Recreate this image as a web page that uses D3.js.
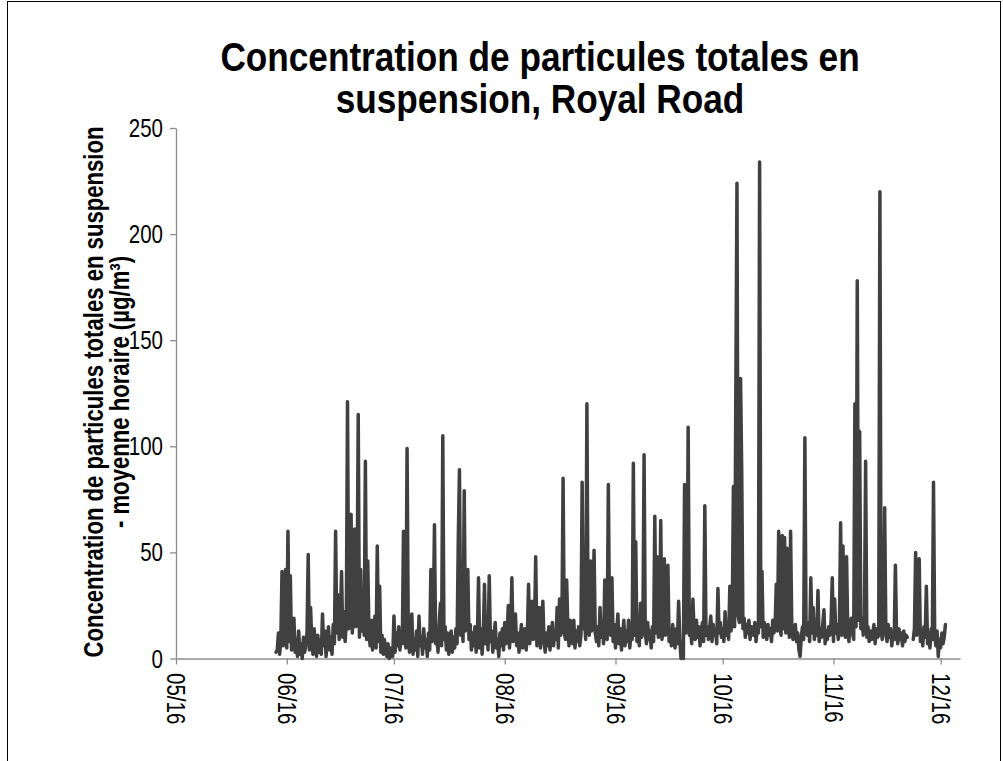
<!DOCTYPE html>
<html>
<head>
<meta charset="utf-8">
<script src="https://cdn.jsdelivr.net/npm/d3@7"></script>
<style>
  body { margin: 0; background: #fff; }
  text { font-family: Arial, "Liberation Sans", sans-serif; }
</style>
</head>
<body>
<svg id="chart" width="1003" height="761"></svg>
<script>
// hourly averages thinned to one value every 8 hours
var startTime = new Date(2016, 4, 29, 0);
var stepHours = 8;
var pm = [
  3, 4, 12, 2, 8, 41, 6, 14, 42, 5, 60, 8, 39, 4, 11,
  19, 3, 9, 1, 13, 2, 7, 0, 10, 3, 6, 12, 49, 4, 24,
  8, 2, 14, 5, 1, 11, 3, 9, 2, 21, 6, 13, 1, 8, 15,
  4, 10, 2, 16, 7, 60, 12, 30, 9, 18, 41, 10, 22, 8, 17,
  121, 14, 26, 68, 12, 20, 61, 15, 28, 115, 10, 42, 13, 24, 11,
  93, 9, 46, 12, 6, 18, 4, 13, 20, 5, 53, 8, 34, 3, 11,
  2, 9, 4, 1, 7, 0, 5, 1, 1, 20, 3, 12, 6, 15, 4,
  10, 7, 60, 13, 5, 99, 14, 3, 11, 21, 2, 9, 4, 13, 1,
  20, 6, 10, 2, 14, 5, 9, 1, 12, 4, 42, 8, 15, 63, 7,
  11, 3, 17, 26, 6, 105, 9, 15, 4, 12, 2, 8, 13, 3, 10,
  5, 14, 7, 56, 89, 11, 18, 8, 79, 13, 20, 42, 9, 16, 4,
  12, 6, 15, 3, 9, 38, 5, 14, 2, 11, 35, 7, 16, 4, 39,
  8, 13, 3, 10, 17, 5, 9, 1, 12, 6, 14, 4, 17, 7, 11,
  25, 5, 13, 38, 8, 15, 21, 6, 12, 3, 10, 16, 5, 9, 14,
  4, 11, 35, 7, 15, 27, 9, 13, 48, 6, 12, 24, 5, 14, 27,
  8, 3, 12, 6, 15, 4, 10, 17, 6, 13, 9, 24, 5, 28, 11,
  16, 85, 12, 9, 37, 14, 6, 18, 10, 7, 18, 5, 13, 8, 15,
  6, 11, 83, 14, 19, 9, 120, 16, 11, 46, 13, 20, 51, 12, 8,
  15, 6, 24, 10, 17, 7, 37, 13, 9, 82, 15, 11, 38, 8, 16,
  5, 12, 21, 7, 14, 4, 11, 18, 6, 13, 8, 18, 5, 12, 9,
  92, 11, 55, 8, 16, 6, 26, 10, 14, 96, 12, 7, 17, 9, 13,
  5, 15, 8, 67, 12, 48, 10, 16, 65, 9, 14, 47, 11, 17, 44,
  8, 13, 6, 16, 10, 5, 14, 7, 27, 9, 0, 1, 0, 82, 12,
  16, 109, 11, 14, 7, 28, 13, 9, 18, 10, 15, 6, 12, 17, 8,
  72, 11, 15, 9, 14, 20, 8, 16, 11, 13, 7, 33, 12, 17, 10,
  14, 8, 22, 11, 16, 9, 34, 13, 18, 81, 15, 122, 224, 20, 17,
  132, 87, 14, 19, 10, 16, 12, 18, 9, 15, 13, 11, 17, 8, 14,
  12, 234, 15, 41, 10, 17, 13, 9, 16, 11, 14, 8, 18, 12, 15,
  35, 13, 60, 16, 11, 58, 14, 57, 12, 52, 17, 10, 60, 15, 9,
  13, 16, 8, 12, 4, 1, 10, 15, 9, 104, 14, 11, 17, 8, 38,
  12, 24, 9, 15, 11, 32, 8, 14, 10, 16, 23, 7, 13, 9, 15,
  11, 17, 38, 8, 28, 12, 16, 9, 14, 64, 11, 53, 15, 10, 48,
  13, 8, 17, 19, 12, 9, 120, 15, 178, 18, 107, 14, 19, 11, 16,
  93, 10, 15, 8, 13, 9, 12, 16, 7, 14, 10, 11, 220, 13, 9,
  15, 71, 12, 8, 16, 10, 14, 6, 12, 9, 44, 11, 7, 14, 9,
  12, 6, 13, 8, 11, 10, null, null, null, null, 9, 14, 50, 11, 16,
  47, 8, 13, 6, 15, 10, 34, 7, 12, 5, 14, 9, 83, 11, 6,
  13, 1, 9, 5, 12, 7, 10, 16
];
var yTicks = [0, 50, 100, 150, 200, 250];
var xTicks = [
  new Date(2016, 4, 1), new Date(2016, 5, 1), new Date(2016, 6, 1), new Date(2016, 7, 1),
  new Date(2016, 8, 1), new Date(2016, 9, 1), new Date(2016, 10, 1), new Date(2016, 11, 1)
];
var titleLines = ["Concentration de particules totales en", "suspension, Royal Road"];
var yLabelLines = ["Concentration de particules totales en suspension", "- moyenne horaire (\u00b5g/m\u00b3)"];

var svg = d3.select('#chart');
var axisColor = '#8c8c8c';
//the original uses a narrow face, so squeeze Arial along the text direction
var narrow = 0.82;

//outer chart border
svg.append('rect')
  .attr('x', 7.5).attr('y', 1.5)
  .attr('width', 993).attr('height', 770)
  .attr('fill', 'none').attr('stroke', '#000').attr('stroke-width', 1);

var x = d3.scaleTime()
  .domain([new Date(2016, 4, 1), new Date(2016, 11, 6, 10)])
  .range([176, 960]);
var y = d3.scaleLinear().domain([0, 250]).range([658.5, 128]);

var data = pm.map(function(v, i){
  return {t: d3.timeHour.offset(startTime, i * stepHours), v: v};
});

//y axis
var yAxis = svg.append('g')
  .attr('transform', 'translate(176,0)')
  .call(d3.axisLeft(y).tickValues(yTicks).tickSize(6).tickSizeOuter(0));

//x axis
var xAxis = svg.append('g')
  .attr('transform', 'translate(0,658.5)')
  .call(d3.axisBottom(x).tickValues(xTicks).tickFormat(d3.timeFormat('%m/%y')).tickSize(6).tickSizeOuter(0));

[yAxis, xAxis].forEach(function(g){
  g.select('.domain').attr('stroke', axisColor).attr('stroke-width', 1.3);
  g.selectAll('.tick line').attr('stroke', axisColor).attr('stroke-width', 1.3);
  g.selectAll('.tick text').attr('fill', '#000').style('font-size', '25px');
});

yAxis.selectAll('.tick text')
  .attr('transform', 'scale(' + narrow + ',1)')
  .attr('x', -13 / narrow).attr('dy', '0.34em');

xAxis.selectAll('.tick text')
  .attr('transform', 'rotate(90) scale(' + narrow + ',1)')
  .attr('text-anchor', 'start')
  .attr('x', 14.5 / narrow).attr('y', 0).attr('dy', '0.36em');

//the series
var line = d3.line()
  .defined(function(d){ return d.v != null; })
  .x(function(d){ return x(d.t); })
  .y(function(d){ return y(d.v); });

svg.append('path')
  .datum(data)
  .attr('d', line)
  .attr('fill', 'none')
  .attr('stroke', '#404040')
  .attr('stroke-width', 3.5)
  .attr('stroke-linejoin', 'round')
  .attr('stroke-linecap', 'round');

//title
svg.selectAll('.title').data(titleLines).enter().append('text')
  .attr('class', 'title')
  .attr('transform', function(d, i){ return 'translate(540,' + (71 + i * 42) + ') scale(0.88,1)'; })
  .attr('text-anchor', 'middle')
  .style('font-size', '40px').style('font-weight', 'bold')
  .text(function(d){ return d; });

//y axis title
svg.selectAll('.ytitle').data(yLabelLines).enter().append('text')
  .attr('class', 'ytitle')
  .attr('transform', function(d, i){ return 'translate(' + (103 + i * 26) + ',392) rotate(-90) scale(' + narrow + ',1)'; })
  .attr('text-anchor', 'middle')
  .style('font-size', '27px').style('font-weight', 'bold')
  .text(function(d){ return d; });
</script>
</body>
</html>
